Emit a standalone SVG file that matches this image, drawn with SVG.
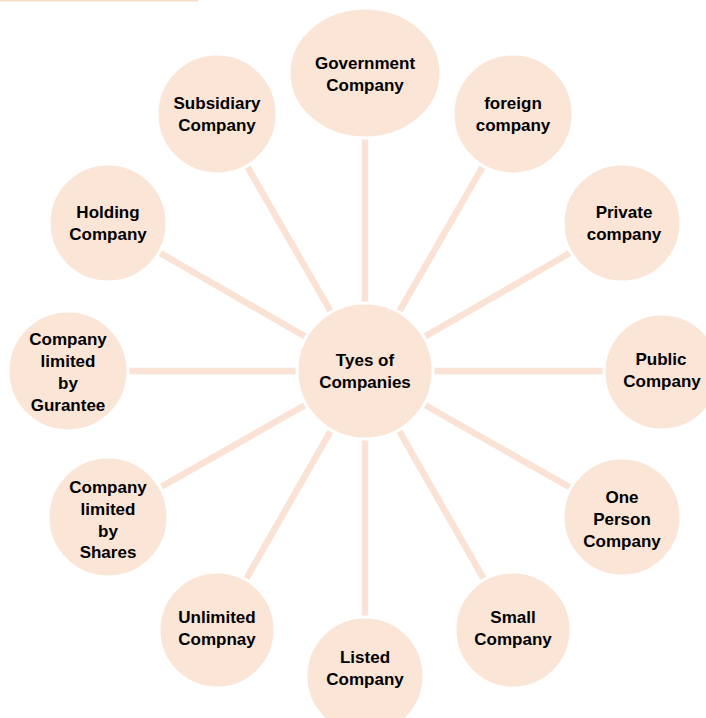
<svg xmlns="http://www.w3.org/2000/svg" width="706" height="718" viewBox="0 0 706 718">
<style>
.n{fill:#FBE5D6;stroke:#FFFFFF;stroke-width:3}
.t{font-family:"Liberation Sans",Arial,sans-serif;font-weight:bold;font-size:17px;fill:#000;text-anchor:middle}
.c line{stroke:#FAE3D4;stroke-width:6.5}
</style>
<rect x="0" y="0" width="198" height="1.5" fill="#F8DDCB"/>
<g id="connectors" class="c">
<line x1="365" y1="371" x2="365" y2="73"/>
<line x1="365" y1="371" x2="217" y2="114"/>
<line x1="365" y1="371" x2="513" y2="114"/>
<line x1="365" y1="371" x2="108" y2="223"/>
<line x1="365" y1="371" x2="622" y2="223"/>
<line x1="365" y1="371" x2="68" y2="371"/>
<line x1="365" y1="371" x2="662" y2="371"/>
<line x1="365" y1="371" x2="108" y2="517"/>
<line x1="365" y1="371" x2="622" y2="517"/>
<line x1="365" y1="371" x2="217" y2="630"/>
<line x1="365" y1="371" x2="513" y2="630"/>
<line x1="365" y1="371" x2="365" y2="675"/>
</g>
<g id="center"><circle class="n" cx="365" cy="371" r="68"/><text class="t" x="365" y="366">Tyes of</text><text class="t" x="365" y="388">Companies</text></g>
<g id="government"><ellipse class="n" cx="365" cy="73" rx="76" ry="65"/><text class="t" x="365" y="69">Government</text><text class="t" x="365" y="91">Company</text></g>
<g id="subsidiary"><circle class="n" cx="217" cy="114" r="60"/><text class="t" x="217" y="109">Subsidiary</text><text class="t" x="217" y="131">Company</text></g>
<g id="foreign"><circle class="n" cx="513" cy="114" r="60"/><text class="t" x="513" y="109">foreign</text><text class="t" x="513" y="131">company</text></g>
<g id="holding"><circle class="n" cx="108" cy="223" r="59"/><text class="t" x="108" y="218">Holding</text><text class="t" x="108" y="240">Company</text></g>
<g id="private"><circle class="n" cx="622" cy="223" r="59"/><text class="t" x="624" y="218">Private</text><text class="t" x="624" y="240">company</text></g>
<g id="guarantee"><circle class="n" cx="68" cy="371" r="60"/><text class="t" x="68" y="345">Company</text><text class="t" x="68" y="367">limited</text><text class="t" x="68" y="389">by</text><text class="t" x="68" y="411">Gurantee</text></g>
<g id="public"><circle class="n" cx="662" cy="372" r="58"/><text class="t" x="661" y="365">Public</text><text class="t" x="662" y="387">Company</text></g>
<g id="shares"><circle class="n" cx="108" cy="517" r="60"/><text class="t" x="108" y="493">Company</text><text class="t" x="108" y="515">limited</text><text class="t" x="108" y="537">by</text><text class="t" x="108" y="558">Shares</text></g>
<g id="oneperson"><circle class="n" cx="622" cy="517" r="59"/><text class="t" x="622" y="503">One</text><text class="t" x="622" y="525">Person</text><text class="t" x="622" y="547">Company</text></g>
<g id="unlimited"><circle class="n" cx="217" cy="630" r="58"/><text class="t" x="217" y="623">Unlimited</text><text class="t" x="217" y="645">Compnay</text></g>
<g id="small"><circle class="n" cx="513" cy="630" r="58"/><text class="t" x="513" y="623">Small</text><text class="t" x="513" y="645">Company</text></g>
<g id="listed"><circle class="n" cx="365" cy="676" r="59"/><text class="t" x="365" y="663">Listed</text><text class="t" x="365" y="685">Company</text></g>
</svg>
